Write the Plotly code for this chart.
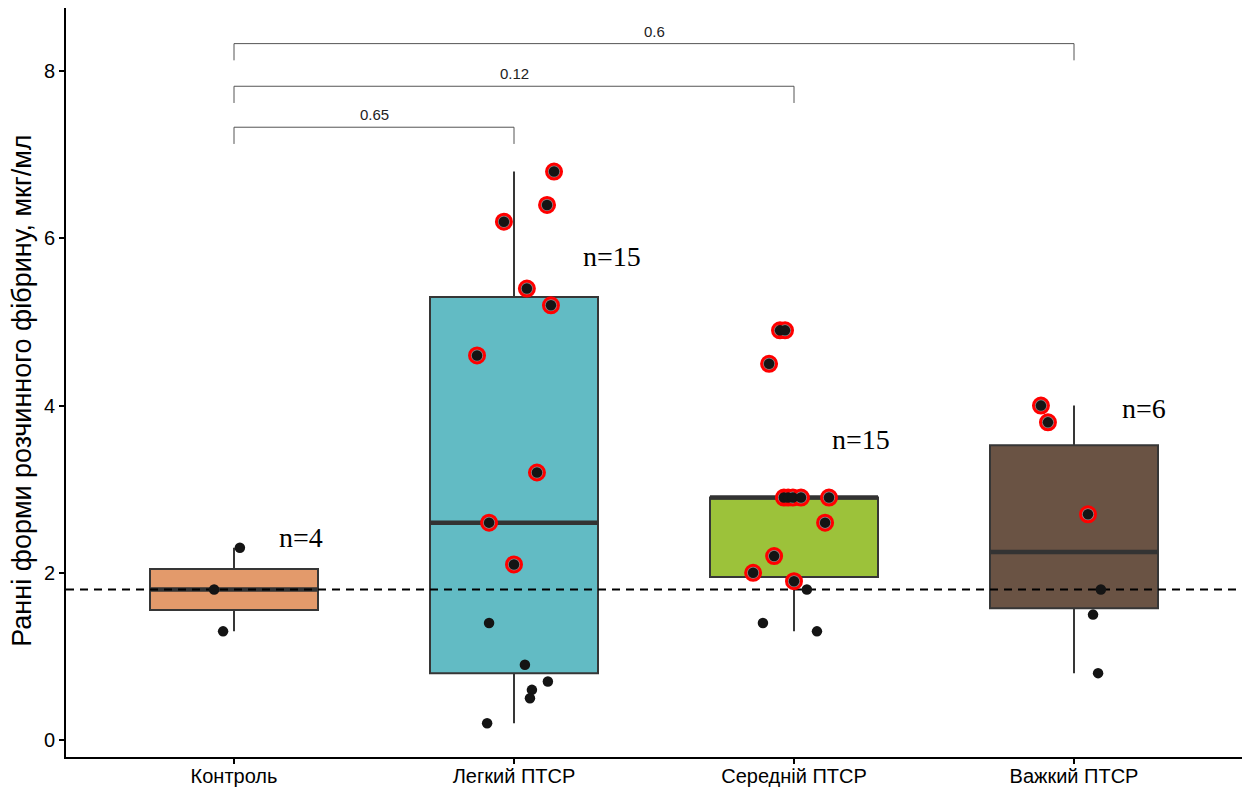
import plotly.graph_objects as go

categories = ["Контроль", "Легкий ПТСР", "Середній ПТСР", "Важкий ПТСР"]
fill_colors = ["#E39A6B", "#62BBC4", "#9CC23A", "#6A5344"]

# box statistics
q1 = [1.555, 0.8, 1.95, 1.575]
median = [1.8, 2.6, 2.9, 2.25]
q3 = [2.045, 5.3, 2.9, 3.525]
lower = [1.3, 0.2, 1.3, 0.8]
upper = [2.3, 6.8, 2.9, 4.0]

# individual points per group
pts_control = [2.3, 1.8, 1.3]
pts_mild = [6.8, 6.4, 6.2, 5.4, 5.2, 4.6, 3.2, 2.6, 2.1, 1.4, 0.9, 0.7, 0.6, 0.5, 0.2]
pts_moderate = [4.9, 4.9, 4.5, 2.9, 2.9, 2.9, 2.9, 2.9, 2.6, 2.2, 2.0, 1.9, 1.8, 1.4, 1.3]
pts_severe = [4.0, 3.8, 2.7, 1.8, 1.5, 0.8]

# horizontal jitter (category units)
jit_control = [0.021, -0.071, -0.039]
jit_mild = [0.143, 0.118, -0.036, 0.046, 0.132, -0.132, 0.082, -0.089, 0.0, -0.089, 0.039, 0.121, 0.064, 0.057, -0.096]
jit_moderate = [-0.050, -0.032, -0.089, -0.036, -0.021, -0.004, 0.025, 0.125, 0.111, -0.071, -0.146, 0.0, 0.046, -0.111, 0.082]
jit_severe = [-0.118, -0.093, 0.05, 0.096, 0.068, 0.086]

# points circled in red
hl_control = [0, 0, 0]
hl_mild = [1, 1, 1, 1, 1, 1, 1, 1, 1, 0, 0, 0, 0, 0, 0]
hl_moderate = [1, 1, 1, 1, 1, 1, 1, 1, 1, 1, 1, 1, 0, 0, 0]
hl_severe = [1, 1, 1, 0, 0, 0]

baseline = 1.8

n_text = ["n=4", "n=15", "n=15", "n=6"]
n_y = [2.42, 5.78, 3.59, 3.96]
n_dx = [0.24, 0.35, 0.24, 0.25]

comp_groups = [1, 2, 3]
p_labels = ["0.65", "0.12", "0.6"]
bracket_y = [7.33, 7.82, 8.33]
tick_drop = 0.2

groups_pts = [pts_control, pts_mild, pts_moderate, pts_severe]
groups_jit = [jit_control, jit_mild, jit_moderate, jit_severe]
groups_hl = [hl_control, hl_mild, hl_moderate, hl_severe]

XR = [-0.6, 3.6]
YR = [-0.203, 8.756]
BOXW = 0.6
SANS = "Liberation Sans, Arial, sans-serif"
SERIF = "Liberation Serif, Times New Roman, serif"

fig = go.Figure()

for i, cat in enumerate(categories):
    fig.add_trace(go.Box(
        x=[i], q1=[q1[i]], median=[median[i]], q3=[q3[i]],
        lowerfence=[lower[i]], upperfence=[upper[i]],
        width=BOXW, fillcolor=fill_colors[i],
        line=dict(color="#363636", width=2), whiskerwidth=0,
        boxpoints=False, showlegend=False, hoverinfo="skip",
    ))
    # thick median line
    fig.add_trace(go.Scatter(
        x=[i - BOXW / 2, i + BOXW / 2], y=[median[i], median[i]],
        mode="lines", line=dict(color="#333333", width=4.5),
        showlegend=False, hoverinfo="skip",
    ))

# dashed reference line
fig.add_trace(go.Scatter(
    x=XR, y=[baseline, baseline], mode="lines",
    line=dict(color="black", width=2, dash="8px,6px"),
    showlegend=False, hoverinfo="skip",
))

# significance brackets
for g, lab, by in zip(comp_groups, p_labels, bracket_y):
    fig.add_trace(go.Scatter(
        x=[0, 0, g, g], y=[by - tick_drop, by, by, by - tick_drop],
        mode="lines", line=dict(color="#555555", width=1),
        showlegend=False, hoverinfo="skip",
    ))
    fig.add_annotation(x=g / 2, y=by, text=lab, showarrow=False,
                       yanchor="bottom", yshift=2,
                       font=dict(family=SANS, size=15, color="#222"))

# points
rx, ry, bx, by_ = [], [], [], []
for i in range(len(categories)):
    for v, j, h in zip(groups_pts[i], groups_jit[i], groups_hl[i]):
        bx.append(i + j)
        by_.append(v)
        if h:
            rx.append(i + j)
            ry.append(v)

fig.add_trace(go.Scatter(
    x=rx, y=ry, mode="markers",
    marker=dict(size=15, color="#8a8a8a", line=dict(color="#ff0000", width=3)),
    showlegend=False, hoverinfo="skip",
))
fig.add_trace(go.Scatter(
    x=bx, y=by_, mode="markers",
    marker=dict(size=10.5, color="#141414", line=dict(width=0)),
    showlegend=False, hoverinfo="skip",
))

# n labels
for i, (t, yv, dx) in enumerate(zip(n_text, n_y, n_dx)):
    fig.add_annotation(x=i + dx, y=yv, text=t, showarrow=False,
                       font=dict(family=SERIF, size=28, color="black"))

# y title
fig.add_annotation(xref="paper", yref="paper", x=-0.0374, y=0.489,
                   xanchor="center", yanchor="middle",
                   text="Ранні форми розчинного фібрину, мкг/мл",
                   textangle=-90, showarrow=False,
                   font=dict(family=SANS, size=27, color="black"))

fig.update_layout(
    width=1246, height=789,
    margin=dict(l=66, r=4, t=8, b=32),
    paper_bgcolor="white", plot_bgcolor="white",
    font=dict(family=SANS, color="black"),
)
fig.update_xaxes(
    range=XR, tickvals=list(range(len(categories))), ticktext=categories,
    automargin=False, ticklabelstandoff=-5,
    showgrid=False, zeroline=False, showline=True, linecolor="black", linewidth=2,
    ticks="outside", ticklen=5, tickwidth=1.5, tickcolor="black",
    tickfont=dict(family=SANS, size=20, color="black"),
)
fig.update_yaxes(
    range=YR, tickvals=[0, 2, 4, 6, 8], automargin=False,
    showgrid=False, zeroline=False, showline=True, linecolor="black", linewidth=2,
    ticks="outside", ticklen=5, tickwidth=1.5, tickcolor="black",
    tickfont=dict(family=SANS, size=20, color="black"),
)

fig.write_html("out.html")
